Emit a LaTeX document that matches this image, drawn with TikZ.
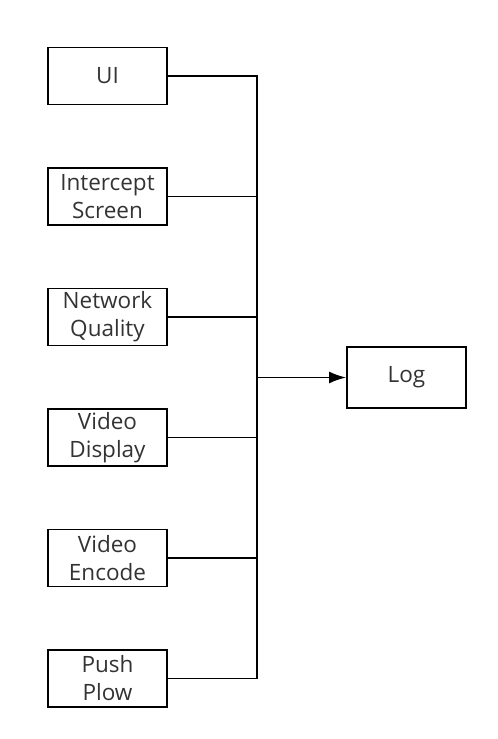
\documentclass[tikz,border=0pt]{standalone}
\usepackage{fontspec}
\setmainfont{Open Sans}
\usetikzlibrary{positioning,arrows.meta}

\begin{document}
\begin{tikzpicture}[x=1pt, y=1pt, line width=1.8pt, node distance=120.5pt, on grid,
box/.style={draw, minimum width=119pt, minimum height=57pt, align=center,
text=black!80, font=\fontsize{22.5}{28}\selectfont}]
\useasboundingbox (0,0) rectangle (498,-739);
\node[box] (ui) at (107.5,-76) {UI};
\node[box] (intercept) [below=of ui] {Intercept\\Screen};
\node[box] (network) [below=of intercept] {Network\\Quality};
\node[box] (display) [below=of network] {Video\\Display};
\node[box] (encode) [below=of display] {Video\\Encode};
\node[box] (push) [below=of encode] {Push\\Plow};
\coordinate (bus) at (257,-377.5);
\node[box, minimum height=61pt] (log) at (406.5,-377.5) {Log};
% collector line
\draw (ui.east) -- (ui.east -| bus) -- (push.east -| bus) -- (push.east);
\foreach \n in {intercept,network,display,encode}
  \draw (\n.east) -- (\n.east -| bus);
\draw[-{Latex[length=17pt,width=12pt]}] (bus) -- (log);
\end{tikzpicture}
\end{document}
